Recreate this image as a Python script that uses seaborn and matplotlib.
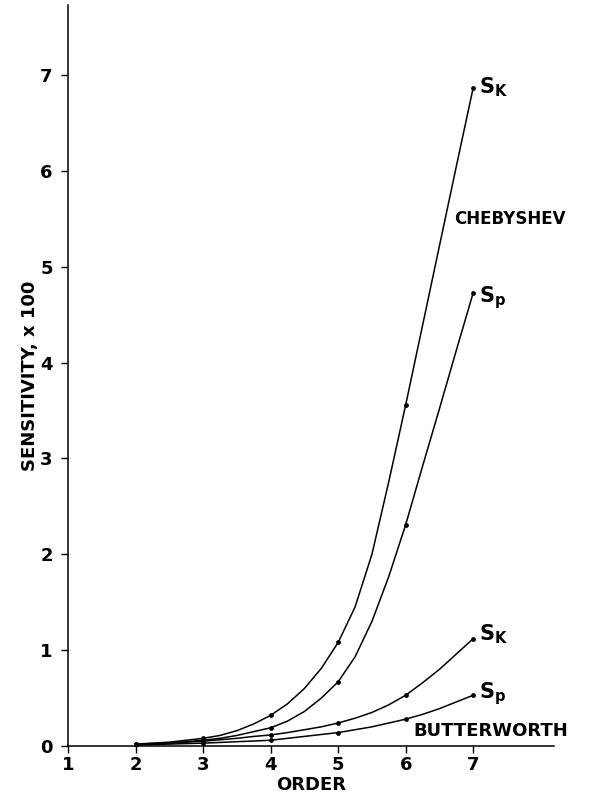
import matplotlib
matplotlib.use("Agg")
import matplotlib.pyplot as plt
import seaborn as sns
import pandas as pd

# Data (order vs sensitivity x100)
order = [2, 2.5, 3, 3.25, 3.5, 3.75, 4, 4.25, 4.5, 4.75, 5,
         5.25, 5.5, 5.75, 6, 6.25, 6.5, 6.75, 7]
cheb_sk = [0.02, 0.04, 0.08, 0.11, 0.16, 0.23, 0.32, 0.44, 0.60, 0.81, 1.08,
           1.45, 2.00, 2.76, 3.56, 4.39, 5.22, 6.05, 6.87]
cheb_sp = [0.02, 0.03, 0.06, 0.08, 0.11, 0.15, 0.19, 0.26, 0.36, 0.50, 0.67,
           0.93, 1.30, 1.77, 2.31, 2.92, 3.52, 4.13, 4.73]
butt_sk = [0.015, 0.03, 0.05, 0.065, 0.08, 0.10, 0.115, 0.14, 0.17, 0.20, 0.24,
           0.29, 0.35, 0.43, 0.53, 0.66, 0.80, 0.96, 1.12]
butt_sp = [0.01, 0.02, 0.03, 0.037, 0.045, 0.052, 0.06, 0.08, 0.10, 0.12, 0.14,
           0.17, 0.20, 0.24, 0.28, 0.33, 0.39, 0.46, 0.53]
marked_orders = [2, 3, 4, 5, 6, 7]

x_ticks = [1, 2, 3, 4, 5, 6, 7]
y_ticks = [0, 1, 2, 3, 4, 5, 6, 7]

series = {
    "cheb_sk": cheb_sk,
    "cheb_sp": cheb_sp,
    "butt_sk": butt_sk,
    "butt_sp": butt_sp,
}
frames = []
for name, vals in series.items():
    frames.append(pd.DataFrame({"order": order, "value": vals, "series": name}))
df = pd.concat(frames, ignore_index=True)
dots = df[df["order"].isin(marked_orders)]

sns.set_style("white")
plt.rcParams["font.family"] = ["DejaVu Sans"]
plt.rcParams["text.color"] = "black"
plt.rcParams["axes.labelcolor"] = "black"
plt.rcParams["xtick.color"] = "black"
plt.rcParams["ytick.color"] = "black"

fig = plt.figure(figsize=(5.93, 8.0), dpi=100)
ax = fig.add_axes([0.1147, 0.0675, 0.82, 0.926])

sns.lineplot(data=df, x="order", y="value", units="series", estimator=None,
             color="black", linewidth=1.1, ax=ax, legend=False)
sns.scatterplot(data=dots, x="order", y="value", color="black", s=12,
                edgecolor="black", linewidth=0, ax=ax, legend=False, zorder=3)

ax.set_xlim(1, 8.2)
ax.set_ylim(0, 7.73)
ax.set_xticks(x_ticks)
ax.set_yticks(y_ticks)
ax.set_xticklabels([str(t) for t in x_ticks], fontsize=13, fontweight="bold")
ax.set_yticklabels([str(t) for t in y_ticks], fontsize=13, fontweight="bold")
ax.tick_params(axis="x", direction="out", length=5, width=1, color="black",
               pad=2, bottom=True)
ax.tick_params(axis="y", direction="out", length=5, width=1, color="black",
               pad=6, left=True)
for s in ["top", "right"]:
    ax.spines[s].set_visible(False)
for s in ["left", "bottom"]:
    ax.spines[s].set_color("black")
    ax.spines[s].set_linewidth(1.1)

ax.set_xlabel("ORDER", fontsize=13, fontweight="bold", labelpad=2)
ax.set_ylabel("SENSITIVITY, x 100", fontsize=13, fontweight="bold", labelpad=1)

lab_kw = dict(fontsize=15, fontweight="bold", va="center", ha="left")
ax.text(7.08, cheb_sk[-1] + 0.0, r"$\mathregular{S_K}$", **lab_kw)
ax.text(7.08, cheb_sp[-1] - 0.05, r"$\mathregular{S_p}$", **lab_kw)
ax.text(7.08, butt_sk[-1] + 0.05, r"$\mathregular{S_K}$", **lab_kw)
ax.text(7.08, butt_sp[-1] + 0.02, r"$\mathregular{S_p}$", **lab_kw)
ax.text(6.72, 5.5, "CHEBYSHEV", fontsize=12, fontweight="bold", va="center", ha="left")
ax.text(6.12, 0.16, "BUTTERWORTH", fontsize=13, fontweight="bold", va="center", ha="left")

fig.savefig("out.png", dpi=100, facecolor="white")
